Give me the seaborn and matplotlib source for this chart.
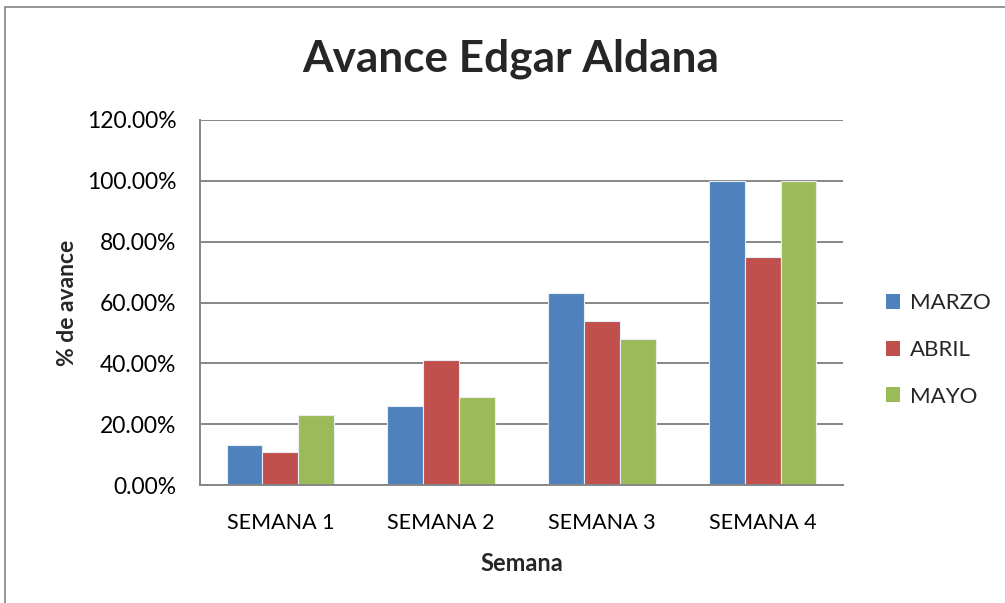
import matplotlib
matplotlib.use("Agg")
import matplotlib.pyplot as plt
from matplotlib.patches import Rectangle
from matplotlib.ticker import FuncFormatter
import pandas as pd
import seaborn as sns

semanas = ["SEMANA 1", "SEMANA 2", "SEMANA 3", "SEMANA 4"]
marzo = [0.13, 0.26, 0.63, 1.00]
abril = [0.11, 0.41, 0.54, 0.75]
mayo = [0.23, 0.29, 0.48, 1.00]
meses = ["MARZO", "ABRIL", "MAYO"]
colores = ["#4F81BD", "#C0504D", "#9BBB59"]
y_ticks = [0.0, 0.2, 0.4, 0.6, 0.8, 1.0, 1.2]

df = pd.DataFrame({
    "Semana": semanas * 3,
    "Mes": [m for m in meses for _ in semanas],
    "Avance": marzo + abril + mayo,
})

sns.set_theme(style="white")
plt.rcParams["font.family"] = ["Lato", "DejaVu Sans"]

fig = plt.figure(figsize=(10.05, 6.03), dpi=100)
ax = fig.add_axes([200 / 1005, 1 - 485 / 603, 643 / 1005, 365 / 603])

sns.barplot(data=df, x="Semana", y="Avance", hue="Mes", hue_order=meses,
            palette=colores, width=0.67, gap=0, ax=ax,
            edgecolor="#E8EEF6", linewidth=0.8, saturation=1, errorbar=None)

ax.set_ylim(0, 1.2)
ax.set_yticks(y_ticks)
ax.yaxis.set_major_formatter(FuncFormatter(lambda v, _: f"{v * 100:.2f}%"))
ax.set_xlim(-0.5, 3.5)
ax.grid(axis="y", color="#868686", linewidth=1.4)
ax.set_axisbelow(True)
for side in ["top", "right"]:
    ax.spines[side].set_visible(False)
for side in ["left", "bottom"]:
    ax.spines[side].set_color("#868686")
    ax.spines[side].set_linewidth(1.4)
ax.tick_params(axis="y", length=0, labelsize=16.5, colors="black", pad=17)
ax.tick_params(axis="x", length=0, labelsize=15.5, colors="black", pad=20)

ax.set_xlabel("Semana", fontsize=17, fontweight="bold", labelpad=14)
ax.set_ylabel("% de avance", fontsize=16.5, fontweight="bold", labelpad=6)
fig.text(0.508, 0.903, "Avance Edgar Aldana", ha="center", va="center",
         fontsize=31.8, fontweight="bold")

leg = ax.legend(loc="center left", bbox_to_anchor=(1.035, 0.37), frameon=False,
                fontsize=16, handlelength=0.65, handleheight=0.65,
                labelspacing=1.2, handletextpad=0.45)
for h in leg.legend_handles:
    h.set_edgecolor("none")

# chart frame
fig.patches.append(Rectangle((5 / 1005, -0.05), 1.1, 1 - 7 / 603 + 0.05,
                             transform=fig.transFigure, fill=False,
                             edgecolor="#868686", linewidth=1.2))

fig.savefig("out.png", dpi=100)
